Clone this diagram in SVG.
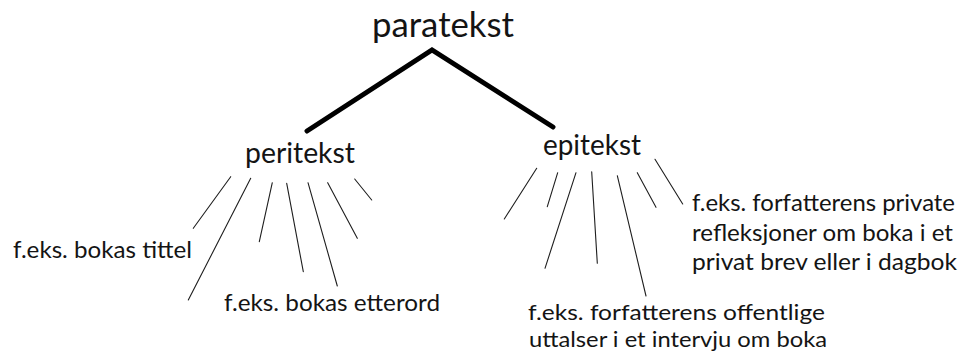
<svg xmlns="http://www.w3.org/2000/svg" width="963" height="354" viewBox="0 0 963 354">
  <style>
    .lbl { font-family: Lato, "Open Sans", "Liberation Sans", sans-serif; fill: #141414; }
    .top { font-size: 34px; }
    .mid { font-size: 28px; }
    .small { font-size: 24px; }
    .tight { font-size: 22px; }
    .trunk { fill: none; stroke: #000; stroke-width: 5; stroke-linecap: round; stroke-linejoin: miter; }
    .ray { stroke: #1e1e1e; stroke-width: 1.1; stroke-linecap: round; }
  </style>
  <rect width="963" height="354" fill="#ffffff"/>

  <!-- connectors -->
  <g id="connectors">
    <polyline class="trunk" points="307,131 432,50 553,127"/>
    <!-- rays under peritekst -->
    <line class="ray" x1="230.7" y1="176.7" x2="193.3" y2="228.3"/>
    <line class="ray" x1="250.7" y1="178.3" x2="188.3" y2="300"/>
    <line class="ray" x1="272.3" y1="182.7" x2="259.3" y2="241.7"/>
    <line class="ray" x1="286.7" y1="183.3" x2="303.3" y2="271.7"/>
    <line class="ray" x1="308" y1="182.7" x2="337.3" y2="286"/>
    <line class="ray" x1="327.7" y1="182.7" x2="357.3" y2="238.3"/>
    <line class="ray" x1="354.7" y1="179" x2="371.7" y2="200"/>
    <!-- rays under epitekst -->
    <line class="ray" x1="536.7" y1="168.3" x2="504.3" y2="219"/>
    <line class="ray" x1="557.7" y1="172.7" x2="547.3" y2="206.7"/>
    <line class="ray" x1="576" y1="172.7" x2="545" y2="268.3"/>
    <line class="ray" x1="591.7" y1="171.7" x2="597.3" y2="263.3"/>
    <line class="ray" x1="617.3" y1="175.7" x2="646" y2="296"/>
    <line class="ray" x1="637.3" y1="172.7" x2="656" y2="207.3"/>
    <line class="ray" x1="655" y1="159.3" x2="682.7" y2="204"/>
  </g>

  <g id="paratekst">
    <text class="lbl top" x="372" y="37" textLength="142" lengthAdjust="spacingAndGlyphs">paratekst</text>
  </g>
  <g id="peritekst">
    <text class="lbl mid" x="245" y="163" textLength="110" lengthAdjust="spacingAndGlyphs">peritekst</text>
  </g>
  <g id="epitekst">
    <text class="lbl mid" x="543" y="155" textLength="98" lengthAdjust="spacingAndGlyphs">epitekst</text>
  </g>
  <g id="ex-tittel">
    <text class="lbl small" x="13" y="258" textLength="179" lengthAdjust="spacingAndGlyphs">f.eks. bokas tittel</text>
  </g>
  <g id="ex-etterord">
    <text class="lbl small" x="224" y="311" textLength="216" lengthAdjust="spacingAndGlyphs">f.eks. bokas etterord</text>
  </g>
  <g id="ex-offentlige">
    <text class="lbl tight" x="528" y="320" textLength="297" lengthAdjust="spacingAndGlyphs">f.eks. forfatterens offentlige</text>
    <text class="lbl tight" x="529" y="347" textLength="298" lengthAdjust="spacingAndGlyphs">uttalser i et intervju om boka</text>
  </g>
  <g id="ex-private">
    <text class="lbl small" x="692" y="211" textLength="263" lengthAdjust="spacingAndGlyphs">f.eks. forfatterens private</text>
    <text class="lbl small" x="692" y="241" textLength="261" lengthAdjust="spacingAndGlyphs">refleksjoner om boka i et</text>
    <text class="lbl small" x="692" y="270" textLength="265" lengthAdjust="spacingAndGlyphs">privat brev eller i dagbok</text>
  </g>
</svg>
